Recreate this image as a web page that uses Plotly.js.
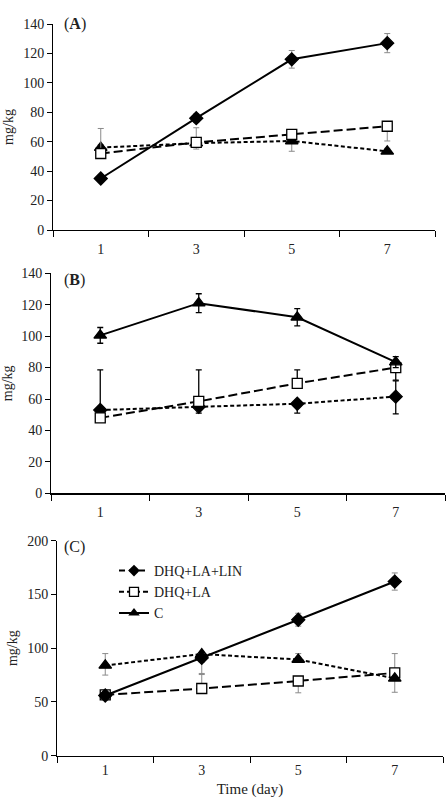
<!DOCTYPE html>
<html>
<head>
<meta charset="utf-8">
<script src="https://cdn.plot.ly/plotly-3.0.1.min.js"></script>
<style>html,body{margin:0;padding:0;background:#fff;}#chart{width:447px;height:801px;}</style>
</head>
<body>
<div id="chart"></div>
<script>
const days = ['1', '3', '5', '7'];

// Panel A
const A_diamond = [35, 76, 116, 127];
const A_diamond_err = [2, 3, 6, 6.5];
const A_square = [52, 59.5, 65, 70.5];
const A_square_plus = [17, 10, 3, 0];
const A_square_minus = [0, 2, 3, 10];
const A_triangle = [56, 59, 60.5, 53.5];
const A_triangle_plus = [2, 3, 1, 2];
const A_triangle_minus = [3, 4, 7, 1];

// Panel B
const B_triangle = [100.5, 121, 112, 83.5];
const B_triangle_err = [5, 6, 5.5, 3.5];
const B_square = [48, 58.5, 70, 80];
const B_square_plus = [0, 20, 8.5, 0];
const B_square_minus = [0, 0, 0, 8];
const B_diamond = [53, 55, 57, 61.5];
const B_diamond_plus = [25.5, 0, 0, 10];
const B_diamond_minus = [0, 4, 6, 11];

// Panel C
const C_diamond = [56, 91, 126.5, 162];
const C_diamond_err = [2, 4, 6, 8];
const C_triangle = [84, 94.5, 89.5, 72];
const C_triangle_plus = [11, 0, 5.5, 0];
const C_triangle_minus = [9, 19, 0, 0];
const C_square = [56.5, 62.5, 69.5, 77];
const C_square_plus = [0, 14, 0, 18];
const C_square_minus = [0, 0, 11, 18];

const legendNames = ['DHQ+LA+LIN', 'DHQ+LA', 'C'];

const LONG = '9px,4px';
const SHORT = '4px,2.5px';
const grayErr = '#8a8a8a';

function tr(xa, ya, y, sym, dash, plus, minus, errColor, errW, filled) {
  return {
    type: 'scatter', mode: 'lines+markers', x: days, y: y,
    xaxis: xa, yaxis: ya, showlegend: false, cliponaxis: false,
    line: {color: '#000', width: 2, dash: dash},
    marker: {
      symbol: sym,
      size: sym === 'square' ? 10 : (sym === 'diamond' ? 10 : 11),
      color: filled ? '#000' : '#fff',
      line: {color: '#000', width: 1.3}
    },
    error_y: {type: 'data', symmetric: false, array: plus, arrayminus: minus,
      color: errColor, thickness: errW, width: 3}
  };
}

const data = [
  // A
  tr('x', 'y', A_triangle, 'triangle-up', SHORT, A_triangle_plus, A_triangle_minus, grayErr, 1, true),
  tr('x', 'y', A_square, 'square', LONG, A_square_plus, A_square_minus, grayErr, 1, false),
  tr('x', 'y', A_diamond, 'diamond', 'solid', A_diamond_err, A_diamond_err, grayErr, 1, true),
  // B
  tr('x2', 'y2', B_diamond, 'diamond', SHORT, B_diamond_plus, B_diamond_minus, '#000', 1.3, true),
  tr('x2', 'y2', B_square, 'square', LONG, B_square_plus, B_square_minus, '#000', 1.3, false),
  tr('x2', 'y2', B_triangle, 'triangle-up', 'solid', B_triangle_err, B_triangle_err, '#000', 1.3, true),
  // C
  tr('x3', 'y3', C_square, 'square', LONG, C_square_plus, C_square_minus, grayErr, 1, false),
  tr('x3', 'y3', C_triangle, 'triangle-up', SHORT, C_triangle_plus, C_triangle_minus, grayErr, 1, true),
  tr('x3', 'y3', C_diamond, 'diamond', 'solid', C_diamond_err, C_diamond_err, grayErr, 1, true),
  // legend entries
  {type: 'scatter', mode: 'lines+markers', x: [null], y: [null], xaxis: 'x3', yaxis: 'y3',
   name: legendNames[0], line: {color: '#000', width: 2, dash: '6px,4px'},
   marker: {symbol: 'diamond', size: 9, color: '#000'}},
  {type: 'scatter', mode: 'lines+markers', x: [null], y: [null], xaxis: 'x3', yaxis: 'y3',
   name: legendNames[1], line: {color: '#000', width: 2, dash: '5px,3px'},
   marker: {symbol: 'square', size: 9, color: '#fff', line: {color: '#000', width: 1.3}}},
  {type: 'scatter', mode: 'lines+markers', x: [null], y: [null], xaxis: 'x3', yaxis: 'y3',
   name: legendNames[2], line: {color: '#000', width: 2},
   marker: {symbol: 'triangle-up', size: 10, color: '#000'}}
];

const FONT = 'Liberation Serif, Times New Roman, serif';
function xax(dom, lw, standoff) {
  return {type: 'category', domain: dom, range: [-0.5, 3.5], showgrid: false, zeroline: false,
    showline: true, linecolor: '#000', linewidth: lw, ticks: 'outside', tickson: 'boundaries',
    ticklen: 6, tickcolor: '#000', tickwidth: 1, ticklabelstandoff: standoff,
    tickfont: {family: FONT, size: 14, color: '#222'}, fixedrange: true};
}
function yax(dom, max, dt) {
  return {domain: dom, range: [0, max], dtick: dt, showgrid: false, zeroline: false,
    showline: true, linecolor: '#000', linewidth: 1, ticks: 'outside', ticklen: 5,
    tickcolor: '#000', tickfont: {family: FONT, size: 14, color: '#222'},
    title: {text: 'mg/kg', font: {family: FONT, size: 14, color: '#222'}, standoff: 6},
    fixedrange: true};
}

const layout = {
  width: 447, height: 801,
  margin: {l: 0, r: 0, t: 0, b: 0},
  paper_bgcolor: '#fff', plot_bgcolor: 'rgba(0,0,0,0)',
  font: {family: FONT, color: '#222'},
  xaxis: Object.assign(xax([53/447, 435/447], 1, 6), {anchor: 'y'}),
  yaxis: Object.assign(yax([1 - 230/801, 1 - 24/801], 140, 20), {anchor: 'x'}),
  xaxis2: Object.assign(xax([51/447, 445/447], 2, 5), {anchor: 'y2'}),
  yaxis2: Object.assign(yax([1 - 493.3/801, 1 - 273.3/801], 140, 20), {anchor: 'x2'}),
  xaxis3: Object.assign(xax([57/447, 443/447], 1, 1), {anchor: 'y3',
    title: {text: 'Time (day)', font: {family: FONT, size: 15, color: '#222'}, standoff: 6}}),
  yaxis3: Object.assign(yax([1 - 755.7/801, 1 - 540.7/801], 200, 50), {anchor: 'x3'}),
  showlegend: true,
  legend: {x: 114/447, y: 1 - 555/801, xanchor: 'left', yanchor: 'top',
    bgcolor: 'rgba(0,0,0,0)', font: {family: FONT, size: 14, color: '#222'},
    tracegroupgap: 0, itemclick: false, itemdoubleclick: false},
  annotations: [
    {text: '(<b>A</b>)', xref: 'paper', yref: 'paper', x: 62/447, y: 1 - 24/801,
     xanchor: 'left', yanchor: 'middle', showarrow: false, font: {family: FONT, size: 16, color: '#222'}},
    {text: '(<b>B</b>)', xref: 'paper', yref: 'paper', x: 62/447, y: 1 - 280/801,
     xanchor: 'left', yanchor: 'middle', showarrow: false, font: {family: FONT, size: 16, color: '#222'}},
    {text: '(C)', xref: 'paper', yref: 'paper', x: 62/447, y: 1 - 547/801,
     xanchor: 'left', yanchor: 'middle', showarrow: false, font: {family: FONT, size: 16, color: '#222'}}
  ]
};

Plotly.newPlot('chart', data, layout, {staticPlot: true, displayModeBar: false});
</script>
</body>
</html>
